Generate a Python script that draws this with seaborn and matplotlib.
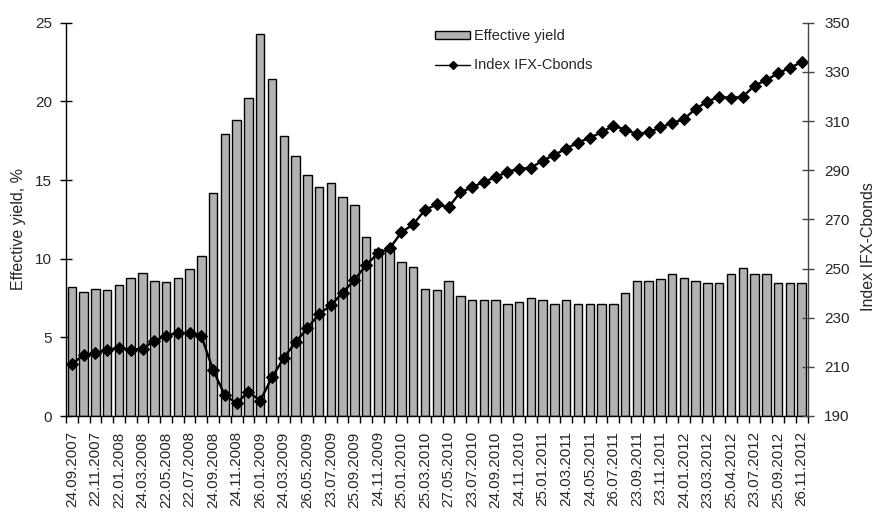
import numpy as np
import pandas as pd
import matplotlib
matplotlib.use("Agg")
import matplotlib.pyplot as plt
from matplotlib.patches import Patch
from matplotlib.lines import Line2D
import seaborn as sns

sns.set_style("ticks")
plt.rcParams['font.family'] = ['Liberation Sans', 'DejaVu Sans']

# effective yield, % (one bar per observation date)
effective_yield = [8.2, 7.9, 8.1, 8.0, 8.3, 8.8, 9.1, 8.6, 8.5, 8.8,
                   9.35, 10.2, 14.15, 17.95, 18.8, 20.2, 24.3, 21.4, 17.8, 16.55,
                   15.35, 14.55, 14.8, 13.95, 13.4, 11.35, 10.6, 10.5, 9.8, 9.5,
                   8.1, 8.0, 8.55, 7.6, 7.4, 7.35, 7.35, 7.1, 7.25, 7.5,
                   7.35, 7.15, 7.35, 7.1, 7.15, 7.15, 7.1, 7.8, 8.6, 8.6,
                   8.7, 9.0, 8.8, 8.6, 8.45, 8.45, 9.05, 9.4, 9.05, 9.05,
                   8.45, 8.45, 8.45]

# Index IFX-Cbonds
index_ifx = [211.2, 214.7, 215.5, 216.9, 217.8, 216.9, 217.4, 220.6, 222.5, 223.9,
             223.6, 222.5, 208.7, 198.4, 195.2, 199.9, 196.2, 205.7, 213.6, 220.0,
             225.7, 231.5, 235.0, 240.2, 245.3, 251.4, 256.2, 258.2, 264.7, 268.0,
             273.8, 276.1, 274.9, 281.0, 283.0, 285.3, 287.1, 289.4, 290.5, 291.0,
             293.9, 296.2, 298.8, 301.2, 303.2, 305.4, 308.1, 306.5, 304.7, 305.4,
             307.4, 309.1, 310.8, 315.0, 317.9, 319.9, 319.4, 319.9, 324.4, 326.7,
             329.4, 331.7, 333.9]

# dates shown under every second bar
date_labels = ['24.09.2007', '22.11.2007', '22.01.2008', '24.03.2008', '22.05.2008',
               '22.07.2008', '24.09.2008', '24.11.2008', '26.01.2009', '24.03.2009',
               '26.05.2009', '23.07.2009', '25.09.2009', '24.11.2009', '25.01.2010',
               '25.03.2010', '27.05.2010', '23.07.2010', '24.09.2010', '24.11.2010',
               '25.01.2011', '24.03.2011', '24.05.2011', '26.07.2011', '23.09.2011',
               '23.11.2011', '24.01.2012', '23.03.2012', '25.04.2012', '23.07.2012',
               '25.09.2012', '26.11.2012']

df = pd.DataFrame({'pos': np.arange(len(effective_yield)),
                   'yield': effective_yield,
                   'index': index_ifx})

bar_color = '#b2b2b2'

fig, ax = plt.subplots(figsize=(8.8, 5.17), dpi=100)
fig.subplots_adjust(left=66 / 880, right=807.5 / 880, top=1 - 22.7 / 517, bottom=1 - 416 / 517)

sns.barplot(data=df, x='pos', y='yield', color=bar_color, edgecolor='black',
            linewidth=1.0, width=0.72, saturation=1, ax=ax)

ax2 = ax.twinx()
sns.lineplot(data=df, x='pos', y='index', color='black', linewidth=1.7,
             marker='D', markersize=6.5, markeredgecolor='black', ax=ax2)

n = len(effective_yield)
ax.set_xlim(-0.5, n - 0.5)
ax.set_ylim(0, 25)
ax.set_yticks(np.arange(0, 26, 5))
ax2.set_ylim(190, 350)
ax2.set_yticks(np.arange(190, 351, 20))

ax.set_xticks(np.arange(0, n, 2))
ax.set_xticklabels(date_labels, rotation=90, fontsize=11)
ax.set_xticks(np.arange(-0.5, n, 1), minor=True)
ax.tick_params(axis='x', which='major', length=0, pad=11)
ax.tick_params(axis='x', which='minor', length=5, width=1, direction='out', color='black')

ax.tick_params(axis='y', length=8, width=1, direction='inout', labelsize=11, pad=6, color='black')
ax2.tick_params(axis='y', length=8, width=1, direction='inout', labelsize=11, pad=8, color='#444444')

ax.set_xlabel('')
ax.set_ylabel('Effective yield, %', fontsize=11.5)
ax2.set_ylabel('Index IFX-Cbonds', fontsize=11.5)
ax.yaxis.set_label_coords(-0.054, 0.475)
ax2.yaxis.set_label_coords(1.072, 0.43)

for a in (ax, ax2):
    a.spines['top'].set_visible(False)
ax.spines['right'].set_visible(False)
ax2.spines['left'].set_visible(False)
ax.spines['left'].set_color('black')
ax.spines['bottom'].set_color('black')
ax2.spines['right'].set_color('#444444')
ax2.spines['bottom'].set_visible(False)
for s in ('left', 'bottom'):
    ax.spines[s].set_linewidth(1.0)
ax2.spines['right'].set_linewidth(1.0)

handles = [Patch(facecolor=bar_color, edgecolor='black', linewidth=1.0),
           Line2D([], [], color='black', linewidth=1.0, marker='D', markersize=4.5)]
fig.legend(handles, ['Effective yield', 'Index IFX-Cbonds'], loc='upper left',
           bbox_to_anchor=(435 / 880, 1 - 29 / 517), frameon=False, fontsize=10.5,
           handlelength=2.4, handleheight=0.5, handletextpad=0.25, labelspacing=1.05,
           borderpad=0, borderaxespad=0)

plt.savefig('out.png', dpi=100)
